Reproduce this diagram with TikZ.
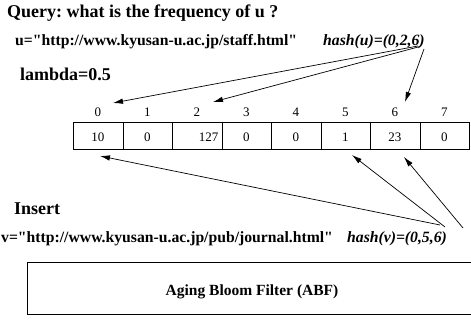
\documentclass[tikz,border=0pt]{standalone}
\usepackage{fontspec}
\setmainfont{Liberation Serif}
\usetikzlibrary{arrows.meta}
\frenchspacing
\begin{document}
\begin{tikzpicture}[x=1pt,y=-1pt,
  lbl/.style={inner sep=0pt,anchor=base west},
  big/.style={font=\fontsize{18}{20}\selectfont\bfseries},
  mid/.style={font=\fontsize{15.7}{18}\selectfont\bfseries},
  midit/.style={font=\fontsize{15.7}{18}\selectfont\bfseries\itshape},
  idx/.style={inner sep=0pt,anchor=base,font=\fontsize{13}{15}\selectfont},
  cell/.style={draw,line width=0.8pt,minimum width=49.5pt,minimum height=27pt,inner sep=0pt,anchor=north west},
  arr/.style={line width=0.7pt,-{Latex[length=10pt,width=5.5pt]}}]
\useasboundingbox (0,0) rectangle (471,320);
% texts
\node[lbl,big] (query) at (7,18) {Query: what is the frequency of u ?};
\node[lbl,mid] (u) at (15,46) {u=\textquotedbl http://www.kyusan-u.ac.jp/staff.html\textquotedbl};
\node[lbl,midit] (hu) at (323,46) {hash(u)=(0,2,6)};
\node[lbl,big] (lambda) at (20,81) {lambda=0.5};
\node[lbl,big] (insert) at (14,215) {Insert};
\node[lbl,mid] (v) at (1,243) {v=\textquotedbl http://www.kyusan-u.ac.jp/pub/journal.html\textquotedbl};
\node[lbl,midit] (hv) at (347,243) {hash(v)=(0,5,6)};
% array
\foreach \i/\val in {0/10,1/0,2/{},3/0,4/0,5/1,6/23,7/0}{
  \node[cell] (c\i) at ({73+49.5*\i},122) {};
  \node[idx] (i\i) at ({73+49.5*\i+24.75},117) {\i};
  \node[idx] (n\i) at ({73+49.5*\i+24.75},142) {\val};
}
\node[idx,anchor=base east] (n2b) at (218.5,142) {127};
% ABF box
\node[draw,line width=1.3pt,minimum width=450pt,minimum height=52pt,anchor=north west,inner sep=0pt] (abf) at (27,262) {};
\node[lbl,anchor=base,font=\fontsize{15.5}{18}\selectfont\bfseries] (abft) at (252,295) {Aging Bloom Filter (ABF)};
% arrow coordinates
\coordinate (hu0) at (418,46);
\coordinate (hu2) at (420,46.5);
\coordinate (hu6) at (424,49);
\coordinate (t0) at (113,103);
\coordinate (t2) at (213,102);
\coordinate (t6) at (405,102);
\coordinate (hv0) at (440,225);
\coordinate (hv5) at (445,227);
\coordinate (hv6) at (463,228);
\coordinate (b0) at (100,156);
\coordinate (b5) at (352,155);
\coordinate (b6) at (404,157);
\draw[arr] (hu0) -- (t0);
\draw[arr] (hu2) -- (t2);
\draw[arr] (hu6) -- (t6);
\draw[arr] (hv0) -- (b0);
\draw[arr] (hv5) -- (b5);
\draw[arr] (hv6) -- (b6);
\end{tikzpicture}
\end{document}
